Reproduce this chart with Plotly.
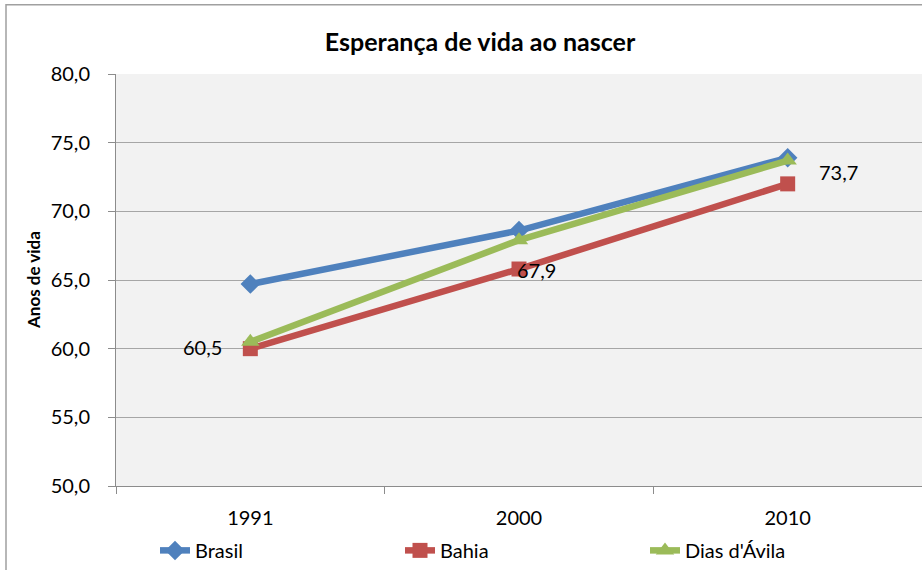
import plotly.graph_objects as go

# Esperança de vida ao nascer - Brasil, Bahia e Dias d'Ávila
anos = ['1991', '2000', '2010']
brasil = [64.7, 68.6, 73.9]
bahia = [60.0, 65.8, 72.0]
dias_davila = [60.5, 67.9, 73.7]
rotulos = ['60,5', '67,9', '73,7']

fonte = 'Lato'
xs = list(range(len(anos)))

fig = go.Figure()
fig.add_trace(go.Scatter(x=xs, y=brasil, name='Brasil', mode='lines+markers',
                         line=dict(color='#4F81BD', width=6.5),
                         marker=dict(symbol='diamond', size=15, color='#4F81BD')))
fig.add_trace(go.Scatter(x=xs, y=bahia, name='Bahia', mode='lines+markers',
                         line=dict(color='#C0504D', width=6.5),
                         marker=dict(symbol='square', size=15, color='#C0504D')))
fig.add_trace(go.Scatter(x=xs, y=dias_davila, name="Dias d'Ávila", mode='lines+markers',
                         line=dict(color='#9BBB59', width=6.5),
                         marker=dict(symbol='triangle-up', size=16, color='#9BBB59')))

# rótulos de dados da série Dias d'Ávila
deslocamentos = [(-26, -5, 'right'), (-4, -30, 'left'), (29, -11, 'left')]
for x, y, txt, (dx, dy, anc) in zip(xs, dias_davila, rotulos, deslocamentos):
    fig.add_annotation(x=x, y=y, text=txt, showarrow=False, xanchor=anc,
                       xshift=dx, yshift=dy, font=dict(family=fonte, size=20, color='#000'))

# título do eixo y
fig.add_annotation(text='<b>Anos de vida</b>', xref='paper', yref='paper',
                   x=(33 - 116) / 806, y=(490 - 282) / 416, textangle=-90,
                   xanchor='center', yanchor='middle',
                   showarrow=False, font=dict(family=fonte, size=17, color='#000'))

# moldura do gráfico
fig.add_shape(type='rect', xref='paper', yref='paper',
              x0=(6 - 116) / 806, x1=1.2, y0=-0.5, y1=(490 - 4) / 416,
              line=dict(color='#A0A0A0', width=1.5), layer='below')

fig.update_layout(
    width=922, height=570,
    margin=dict(l=116, r=0, t=74, b=80),
    paper_bgcolor='white', plot_bgcolor='#F2F2F2',
    separators=',.',
    font=dict(family=fonte, size=20, color='#000'),
    title=dict(text='<b>Esperança de vida ao nascer</b>', x=480 / 922, xanchor='center',
               y=1 - 42 / 570, yanchor='middle', font=dict(family=fonte, size=25, color='#000')),
    showlegend=True,
    legend=dict(orientation='h', x=(155 - 116) / 806, xanchor='left',
                y=(490 - 555) / 416, yanchor='middle', entrywidth=200,
                font=dict(family=fonte, size=20, color='#000'), bgcolor='rgba(0,0,0,0)'),
)

fig.update_xaxes(range=[-0.5, 2.5], tickvals=xs, ticktext=anos, ticks='',
                 showgrid=False, zeroline=False, showline=True, linecolor='#8C8C8C', linewidth=1,
                 minor=dict(tick0=-0.5, dtick=1, ticks='outside', ticklen=7, tickcolor='#8C8C8C', showgrid=False),
                 ticklabelstandoff=14)
fig.update_yaxes(range=[50, 80], dtick=5, tickformat='.1f', ticks='outside', ticklen=7,
                 tickcolor='#8C8C8C', showgrid=True, gridcolor='#A6A6A6', gridwidth=1,
                 zeroline=False, showline=True, linecolor='#8C8C8C', linewidth=1,
                 ticklabelstandoff=14)

fig.write_html('out.html', config={'displayModeBar': False},
               post_script="document.body.style.margin='0';")
